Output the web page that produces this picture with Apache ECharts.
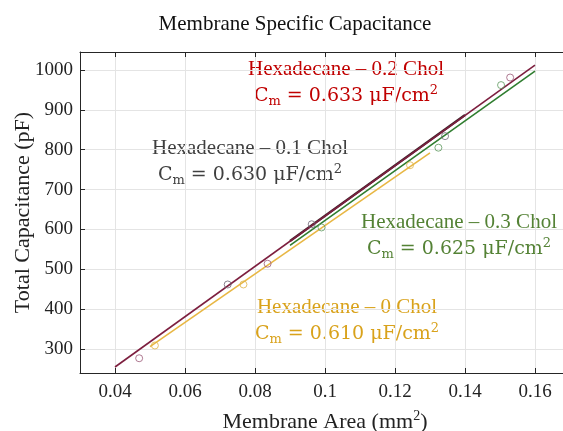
<!DOCTYPE html>
<html>
<head>
<meta charset="utf-8">
<script src="https://cdn.jsdelivr.net/npm/echarts@6/dist/echarts.min.js"></script>
<style>
  html, body { margin: 0; padding: 0; background: #fff; }
  #chart { width: 563px; height: 431px; }
</style>
</head>
<body>
<div id="chart"></div>
<script>
// measured points, mm^2 vs pF
let chol0X = [0.0514, 0.0767, 0.1243];
let chol0Y = [309, 462, 761];
let chol01X = [0.0722, 0.0962, 0.1343];
let chol01Y = [462, 613, 834];
let chol02X = [0.0469, 0.0836, 0.1529];
let chol02Y = [277, 514, 981];
let chol03X = [0.0990, 0.1324, 0.1503];
let chol03Y = [605, 805, 962];

// fit lines (end points)
let fit0X = [0.05, 0.13];
let fit0Y = [306, 792];
let fit01X = [0.09, 0.14];
let fit01Y = [571, 887];
let fit02X = [0.04, 0.16];
let fit02Y = [255, 1012];
let fit03X = [0.09, 0.16];
let fit03Y = [560, 997];

let labels = [
    {name: 'Hexadecane \u2013 0.2 Chol', cm: '0.633', color: '#c00000', x: 346, y: 69},
    {name: 'Hexadecane \u2013 0.1 Chol', cm: '0.630', color: '#3f3f3f', x: 250, y: 148},
    {name: 'Hexadecane \u2013 0.3 Chol', cm: '0.625', color: '#548235', x: 459, y: 222},
    {name: 'Hexadecane \u2013 0 Chol', cm: '0.610', color: '#d9a21b', x: 347, y: 307}
];

let pairs = (xs, ys) => xs.map((x, i) => [x, ys[i]]);

let serif = 'Liberation Serif';
let mathFont = 'DejaVu Serif';

let chart = echarts.init(document.getElementById('chart'));

let fitLine = (name, xs, ys, color, width) => ({
    name: name,
    type: 'line',
    data: pairs(xs, ys),
    showSymbol: false,
    lineStyle: {color: color, width: width || 1.6},
    silent: true
});

let points = (name, xs, ys, color) => ({
    name: name,
    type: 'scatter',
    data: pairs(xs, ys),
    symbol: 'circle',
    symbolSize: 7,
    itemStyle: {color: 'rgba(0,0,0,0)', borderColor: color, borderWidth: 1},
    z: 5
});

let graphics = [];
labels.forEach(l => {
    graphics.push({
        type: 'text',
        x: l.x, y: l.y,
        style: {
            text: l.name,
            fill: l.color,
            font: '21px "' + serif + '"',
            align: 'center',
            verticalAlign: 'middle'
        }
    });
    graphics.push({
        type: 'text',
        x: l.x, y: l.y + 27,
        style: {
            text: '{c|C}{s|m}{c| = ' + l.cm + ' \u03bcF/cm}{p|2}',
            align: 'center',
            verticalAlign: 'middle',
            rich: {
                c: {fill: l.color, fontFamily: mathFont, fontSize: 19, lineHeight: 24, verticalAlign: 'middle'},
                s: {fill: l.color, fontFamily: mathFont, fontSize: 13, lineHeight: 13, padding: [12, 0, 0, 0], verticalAlign: 'bottom'},
                p: {fill: l.color, fontFamily: mathFont, fontSize: 13, lineHeight: 13, padding: [0, 0, 10, 0], verticalAlign: 'top'}
            }
        }
    });
});

let axisColor = '#262626';

let option = {
    animation: false,
    backgroundColor: '#fff',
    title: {
        text: 'Membrane Specific Capacitance',
        left: 290,
        top: 9,
        textAlign: 'center',
        textStyle: {fontFamily: serif, fontSize: 21, fontWeight: 'normal', color: '#111'}
    },
    grid: {left: 80, top: 52, right: -7, bottom: 58, containLabel: false, outerBoundsMode: 'none'},
    xAxis: [{
        type: 'value',
        min: 0.03,
        max: 0.17,
        splitNumber: 7,
        name: '{a|Membrane Area (mm}{s|2}{a|)}',
        nameLocation: 'middle',
        nameGap: 36,
        nameTextStyle: {
            rich: {
                a: {fontFamily: serif, fontSize: 22, color: '#222', lineHeight: 24},
                s: {fontFamily: serif, fontSize: 14, color: '#222', verticalAlign: 'top', padding: [0, 0, 12, 0]}
            }
        },
        axisLine: {lineStyle: {color: axisColor}},
        axisTick: {inside: true, length: 5, lineStyle: {color: axisColor}},
        axisLabel: {
            fontFamily: serif, fontSize: 19, color: '#222', margin: 10,
            showMinLabel: false, showMaxLabel: false
        },
        splitLine: {show: true, lineStyle: {color: '#e4e4e4'}}
    }, {
        type: 'value',
        position: 'top',
        min: 0.03,
        max: 0.17,
        splitNumber: 7,
        axisLine: {show: true, lineStyle: {color: axisColor}},
        axisTick: {show: true, inside: true, length: 5, lineStyle: {color: axisColor}},
        axisLabel: {show: false},
        splitLine: {show: false}
    }],
    yAxis: [{
        type: 'value',
        min: 240,
        max: 1045,
        splitNumber: 8,
        name: 'Total Capacitance (pF)',
        nameLocation: 'middle',
        nameGap: 46,
        nameMoveOverlap: false,
        nameTextStyle: {fontFamily: serif, fontSize: 22, color: '#222'},
        axisLine: {show: true, lineStyle: {color: axisColor}},
        axisTick: {show: true, inside: true, length: 5, lineStyle: {color: axisColor}},
        axisLabel: {
            fontFamily: serif, fontSize: 19, color: '#222', margin: 7,
            showMinLabel: false, showMaxLabel: false,
            formatter: v => String(v)
        },
        splitLine: {show: true, lineStyle: {color: '#e4e4e4'}}
    }],
    series: [
        fitLine('0 Chol fit', fit0X, fit0Y, '#e8b744'),
        fitLine('0.1 Chol fit', fit01X, fit01Y, '#3a2228', 2.2),
        fitLine('0.3 Chol fit', fit03X, fit03Y, '#2f7d2f'),
        fitLine('0.2 Chol fit', fit02X, fit02Y, '#7d1f3f'),
        points('0 Chol', chol0X, chol0Y, '#e0b448'),
        points('0.1 Chol', chol01X, chol01Y, '#6d6474'),
        points('0.2 Chol', chol02X, chol02Y, '#9c5a78'),
        points('0.3 Chol', chol03X, chol03Y, '#5f9a5f')
    ],
    graphic: graphics
};

chart.setOption(option);
</script>
</body>
</html>
